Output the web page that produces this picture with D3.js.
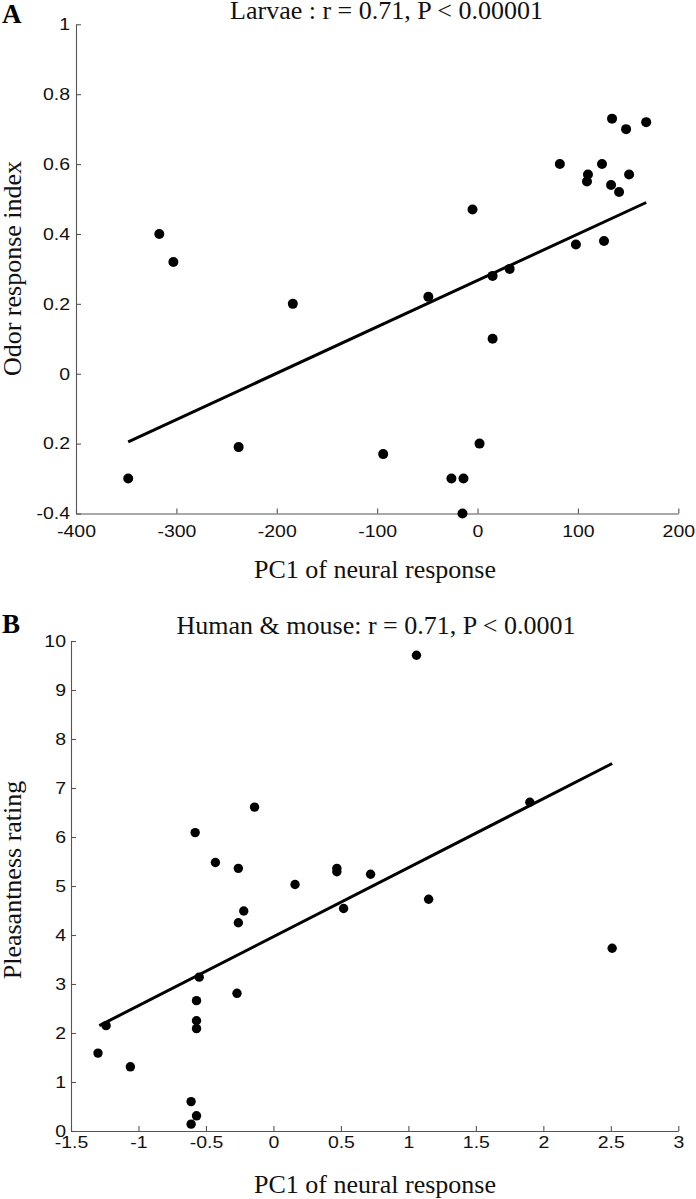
<!DOCTYPE html>
<html>
<head>
<meta charset="utf-8">
<script src="https://cdn.jsdelivr.net/npm/d3@7"></script>
<style>
  html, body { margin: 0; padding: 0; background: #fff; }
  svg { display: block; }
</style>
</head>
<body>
<svg id="chart" width="696" height="1199"></svg>
<script>
// ---------- Panel A: Larvae ----------
const larvaePC1 = [-317, -303, 134, 148, 168, 82, 124, 110, 109, 133, 151, 141, -5, 98, 126, 15, 32, -49, -184, -238, -348, 15, 2, -94, -26, -14, -15];
const larvaeIndex = [0.40, 0.32, 0.73, 0.70, 0.72, 0.60, 0.60, 0.57, 0.55, 0.54, 0.57, 0.52, 0.47, 0.37, 0.38, 0.28, 0.30, 0.22, 0.20, -0.21, -0.30, 0.10, -0.20, -0.23, -0.30, -0.30, -0.40];
const larvaeFitX = [-348, 168];
const larvaeFitY = [-0.195, 0.49];
const larvaeXTicks = [-400, -300, -200, -100, 0, 100, 200];
const larvaeXTickLabels = ["-400", "-300", "-200", "-100", "0", "100", "200"];
const larvaeYTicks = [-0.4, -0.2, 0, 0.2, 0.4, 0.6, 0.8, 1];
const larvaeYTickLabels = ["-0.4", "0.2", "0", "0.2", "0.4", "0.6", "0.8", "1"];
const larvaeTitle = "Larvae : r = 0.71, P < 0.00001";
const larvaeYLabel = "Odor response index";

// ---------- Panel B: Human & mouse ----------
const hmPC1 = [-0.58, -0.14, -0.43, -0.26, 0.16, 0.47, 0.47, 1.06, 1.90, 0.72, 1.15, 2.51, 0.52, -0.22, -0.26, -0.55, -0.27, -0.57, -0.57, -0.57, -1.24, -1.30, -1.06, -0.61, -0.57, -0.61];
const hmRating = [6.09, 6.61, 5.48, 5.36, 5.03, 5.36, 5.29, 9.71, 6.71, 5.24, 4.73, 3.73, 4.54, 4.49, 4.25, 3.14, 2.81, 2.66, 2.25, 2.09, 2.15, 1.59, 1.31, 0.60, 0.31, 0.14];
const hmFitX = [-1.29, 2.51];
const hmFitY = [2.15, 7.50];
const hmXTicks = [-1.5, -1, -0.5, 0, 0.5, 1, 1.5, 2, 2.5, 3];
const hmXTickLabels = ["-1.5", "-1", "-0.5", "0", "0.5", "1", "1.5", "2", "2.5", "3"];
const hmYTicks = [0, 1, 2, 3, 4, 5, 6, 7, 8, 9, 10];
const hmYTickLabels = ["0", "1", "2", "3", "4", "5", "6", "7", "8", "9", "10"];
const hmTitle = "Human & mouse: r = 0.71, P < 0.0001";
const hmYLabel = "Pleasantness rating";

const xLabel = "PC1 of neural response";

const svg = d3.select("#chart");
const SERIF = "'Liberation Serif', 'Times New Roman', serif";
const SANS = "'Liberation Sans', Arial, sans-serif";
const TICK_FS = 16.5, TICK_SX = 1.18;
const AXIS_COLOR = "#555";

function panel(cfg) {
  const x = d3.scaleLinear().domain(cfg.xDomain).range(cfg.xRange);
  const y = d3.scaleLinear().domain(cfg.yDomain).range(cfg.yRange);
  const g = svg.append("g");

  const xAxis = d3.axisBottom(x)
    .tickValues(cfg.xTicks)
    .tickFormat((d, i) => cfg.xTickLabels[i])
    .tickSizeInner(-5).tickSizeOuter(0).tickPadding(cfg.xPad);
  const gx = g.append("g").attr("transform", `translate(0,${cfg.yRange[0]})`).call(xAxis);
  const yAxis = d3.axisLeft(y)
    .tickValues(cfg.yTicks)
    .tickFormat((d, i) => cfg.yTickLabels[i])
    .tickSizeInner(-5).tickSizeOuter(0).tickPadding(cfg.yPad);
  const gy = g.append("g").attr("transform", `translate(${cfg.xRange[0]},0)`).call(yAxis);

  [gx, gy].forEach(a => {
    a.select(".domain").attr("stroke", AXIS_COLOR).attr("stroke-width", 1.1);
    a.selectAll(".tick line").attr("stroke", AXIS_COLOR).attr("stroke-width", 1.1);
    a.selectAll(".tick text")
      .attr("font-family", SANS).attr("font-size", TICK_FS).attr("fill", "#111");
  });
  gx.selectAll(".tick text").attr("transform", `scale(${TICK_SX},1)`);
  gy.selectAll(".tick text")
    .attr("x", -cfg.yPad / TICK_SX)
    .attr("transform", `scale(${TICK_SX},1)`);

  const line = d3.line().x(d => x(d[0])).y(d => y(d[1]));
  g.append("path")
    .datum(cfg.fitX.map((v, i) => [v, cfg.fitY[i]]))
    .attr("d", line)
    .attr("fill", "none").attr("stroke", "#000").attr("stroke-width", 3);

  g.append("g").selectAll("circle")
    .data(cfg.px.map((v, i) => [v, cfg.py[i]]))
    .join("circle")
    .attr("cx", d => x(d[0])).attr("cy", d => y(d[1]))
    .attr("r", cfg.r).attr("fill", "#000");

  g.append("text").attr("x", cfg.titleX).attr("y", cfg.titleY)
    .attr("text-anchor", "middle").attr("font-family", SERIF).attr("font-size", 26)
    .attr("fill", "#111").text(cfg.title);
  g.append("text").attr("x", 2).attr("y", cfg.letterY)
    .attr("font-family", SERIF).attr("font-size", 27).attr("font-weight", "bold")
    .attr("fill", "#000").text(cfg.letter);
  g.append("text").attr("x", 375).attr("y", cfg.xLabelY)
    .attr("text-anchor", "middle").attr("font-family", SERIF).attr("font-size", 26)
    .attr("fill", "#111").text(xLabel);
  g.append("text")
    .attr("transform", `translate(21,${cfg.yLabelCY}) rotate(-90)`)
    .attr("text-anchor", "middle").attr("font-family", SERIF).attr("font-size", 26)
    .attr("fill", "#111").text(cfg.yLabel);
}

panel({
  xDomain: [-400, 200], xRange: [76, 678.3],
  yDomain: [-0.4, 1], yRange: [513.5, 24.3],
  xTicks: larvaeXTicks, xTickLabels: larvaeXTickLabels,
  yTicks: larvaeYTicks, yTickLabels: larvaeYTickLabels,
  xPad: 11.5, yPad: 6,
  fitX: larvaeFitX, fitY: larvaeFitY,
  px: larvaePC1, py: larvaeIndex, r: 5,
  title: larvaeTitle, titleX: 386.5, titleY: 19,
  letter: "A", letterY: 23,
  xLabelY: 578, yLabel: larvaeYLabel, yLabelCY: 268.5
});

panel({
  xDomain: [-1.5, 3], xRange: [71, 678.3],
  yDomain: [0, 10], yRange: [1131, 641],
  xTicks: hmXTicks, xTickLabels: hmXTickLabels,
  yTicks: hmYTicks, yTickLabels: hmYTickLabels,
  xPad: 5, yPad: 5,
  fitX: hmFitX, fitY: hmFitY,
  px: hmPC1, py: hmRating, r: 4.7,
  title: hmTitle, titleX: 376, titleY: 634,
  letter: "B", letterY: 633,
  xLabelY: 1193, yLabel: hmYLabel, yLabelCY: 880
});
</script>
</body>
</html>
